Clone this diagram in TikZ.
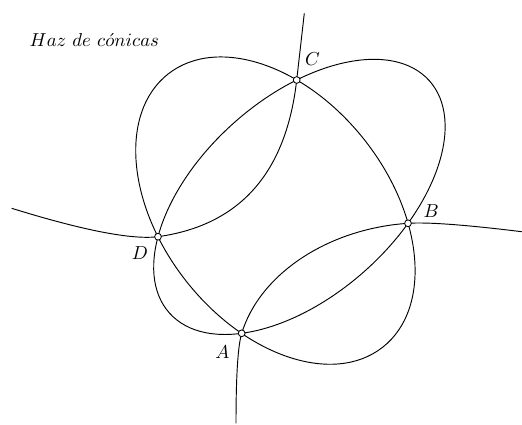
\documentclass[tikz,border=0pt]{standalone}
\begin{document}
\begin{tikzpicture}[x=0.01874cm, y=-0.01874cm,
  curve/.style={line width=0.5pt},
  pt/.style={circle, draw, fill=white, inner sep=0pt, minimum size=3.6pt, line width=0.45pt},
  lbl/.style={inner sep=0pt}]
\useasboundingbox (0,0) rectangle (522,424);
\coordinate (A) at (241.7,333.3);
\coordinate (B) at (408,223.3);
\coordinate (C) at (296.7,80);
\coordinate (D) at (158,236.7);
\coordinate (H1top) at (304.3,13.3);
\coordinate (H1left) at (11.7,208.3);
\coordinate (H2right) at (521.7,231.7);
\coordinate (H2bottom) at (236,423.3);
% ellipses of the pencil
\draw[curve, rotate around={-51.86:(275.4,210.6)}] (275.4,210.6) ellipse [x radius=3.255cm, y radius=2.131cm];
\draw[curve, rotate around={41.79:(299.4,196.9)}] (299.4,196.9) ellipse [x radius=3.266cm, y radius=1.852cm];
% hyperbola, two branches
\draw[curve] (H1top) -- (C) .. controls (286.1,173.0) and (239.9,225.2) .. (D)
  .. controls (131.8,239.9) and (83.0,230.4) .. (H1left);
\draw[curve] (H2right) .. controls (465.6,224.8) and (427.7,222.0) .. (B)
  .. controls (328.1,228.7) and (259.9,273.8) .. (A)
  .. controls (237.9,345.7) and (236,375.7) .. (H2bottom);
% points
\node[pt] (pA) at (A) {};
\node[pt] (pB) at (B) {};
\node[pt] (pC) at (C) {};
\node[pt] (pD) at (D) {};
\node[lbl] (lA) at (222.5,351.7) {$A$};
\node[lbl] (lB) at (431.3,211.2) {$B$};
\node[lbl] (lC) at (312.5,59.3) {$C$};
\node[lbl] (lD) at (140,253.3) {$D$};
\node[anchor=base west, inner sep=0pt] (title) at (29.3,46.7) {$Haz\ de\ c\acute{o}nicas$};
\end{tikzpicture}
\end{document}
